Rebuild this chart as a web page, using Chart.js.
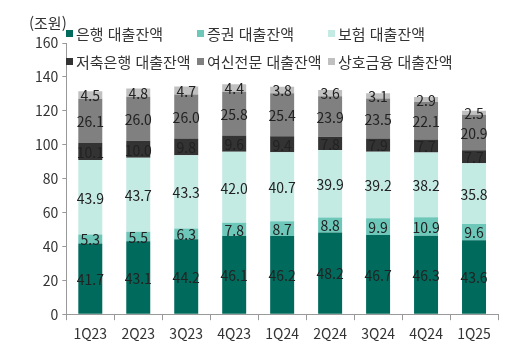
<!DOCTYPE html>
<html lang="ko">
<head>
<meta charset="utf-8">
<script src="https://cdn.jsdelivr.net/npm/chart.js@4/dist/chart.umd.min.js"></script>
<style>
    html, body { margin: 0; padding: 0; background: #fff; }
    #wrap { position: relative; width: 518px; height: 352px; }
    #unit {
        position: absolute; left: 29px; top: 12px; line-height: 20px;
        font: 15px "Noto Sans CJK KR", sans-serif; color: #333;
    }
    #legend { position: absolute; left: 66px; top: 0; width: 450px; }
    .lg-item {
        position: absolute; display: flex; align-items: center; height: 20px;
        font: 15px "Noto Sans CJK KR", sans-serif; color: #333; white-space: nowrap;
    }
    .lg-box { width: 7px; height: 7px; margin-right: 3px; }
</style>
</head>
<body>
<div id="wrap">
    <canvas id="chart" width="518" height="352"></canvas>
    <div id="unit">(조원)</div>
    <div id="legend"></div>
</div>
<script>
// 분기
const quarters = ['1Q23', '2Q23', '3Q23', '4Q23', '1Q24', '2Q24', '3Q24', '4Q24', '1Q25'];

// 업권별 대출잔액 (조원)
const bankLoans     = [41.7, 43.1, 44.2, 46.1, 46.2, 48.2, 46.7, 46.3, 43.6];
const securities    = [5.3, 5.5, 6.3, 7.8, 8.7, 8.8, 9.9, 10.9, 9.6];
const insurance     = [43.9, 43.7, 43.3, 42.0, 40.7, 39.9, 39.2, 38.2, 35.8];
const savingsBank   = [10.1, 10.0, 9.8, 9.6, 9.4, 7.8, 7.9, 7.7, 7.7];
const creditFinance = [26.1, 26.0, 26.0, 25.8, 25.4, 23.9, 23.5, 22.1, 20.9];
const mutualFinance = [4.5, 4.8, 4.7, 4.4, 3.8, 3.6, 3.1, 2.9, 2.5];

const yTicks = [0, 20, 40, 60, 80, 100, 120, 140, 160];

const seriesNames = ['은행 대출잔액', '증권 대출잔액', '보험 대출잔액', '저축은행 대출잔액', '여신전문 대출잔액', '상호금융 대출잔액'];
const seriesColors = ['#006a5d', '#6dc8ba', '#c4eae4', '#333333', '#808080', '#c0c0c0'];
const seriesData = [bankLoans, securities, insurance, savingsBank, creditFinance, mutualFinance];

const FONT = '"Noto Sans CJK KR", sans-serif';

// legend (HTML, 3 columns x 2 rows)
const legendEl = document.getElementById('legend');
const colX = [0, 131, 262];
const rowY = [23, 51];
seriesNames.forEach((name, i) => {
    const item = document.createElement('div');
    item.className = 'lg-item';
    item.style.left = colX[i % 3] + 'px';
    item.style.top = rowY[Math.floor(i / 3)] + 'px';
    const box = document.createElement('span');
    box.className = 'lg-box';
    box.style.background = seriesColors[i];
    const txt = document.createElement('span');
    txt.textContent = name;
    item.appendChild(box);
    item.appendChild(txt);
    legendEl.appendChild(item);
});

// segment value labels
const valueLabels = {
    id: 'valueLabels',
    afterDatasetsDraw(chart) {
        const ctx = chart.ctx;
        ctx.save();
        ctx.font = '14px ' + FONT;
        ctx.fillStyle = '#222';
        ctx.textAlign = 'center';
        ctx.textBaseline = 'middle';
        chart.data.datasets.forEach((ds, di) => {
            const meta = chart.getDatasetMeta(di);
            meta.data.forEach((bar, i) => {
                const v = ds.data[i];
                const cy = (bar.y + bar.base) / 2;
                ctx.fillText(v.toFixed(1), bar.x, cy + 1);
            });
        });
        ctx.restore();
    }
};

new Chart(document.getElementById('chart'), {
    type: 'bar',
    data: {
        labels: quarters,
        datasets: seriesData.map((d, i) => ({
            label: seriesNames[i],
            data: d,
            backgroundColor: seriesColors[i],
            borderWidth: 0,
            barPercentage: 0.5,
            categoryPercentage: 1.0
        }))
    },
    options: {
        responsive: false,
        animation: false,
        layout: { padding: { left: 31, right: 20, top: 43, bottom: 5 } },
        plugins: {
            legend: { display: false },
            tooltip: { enabled: false }
        },
        scales: {
            x: {
                stacked: true,
                border: { color: '#999', width: 1 },
                grid: { display: true, drawOnChartArea: false, offset: true, tickLength: 6, color: '#999' },
                ticks: { color: '#333', font: { family: FONT, size: 14 }, padding: 5 }
            },
            y: {
                stacked: true,
                min: 0,
                max: 160,
                border: { color: '#999', width: 1 },
                grid: { display: true, drawOnChartArea: false, tickLength: 4, color: '#999' },
                afterBuildTicks(axis) { axis.ticks = yTicks.map(v => ({ value: v })); },
                ticks: { color: '#333', font: { family: FONT, size: 14 }, padding: 4 }
            }
        }
    },
    plugins: [valueLabels]
});
</script>
</body>
</html>
